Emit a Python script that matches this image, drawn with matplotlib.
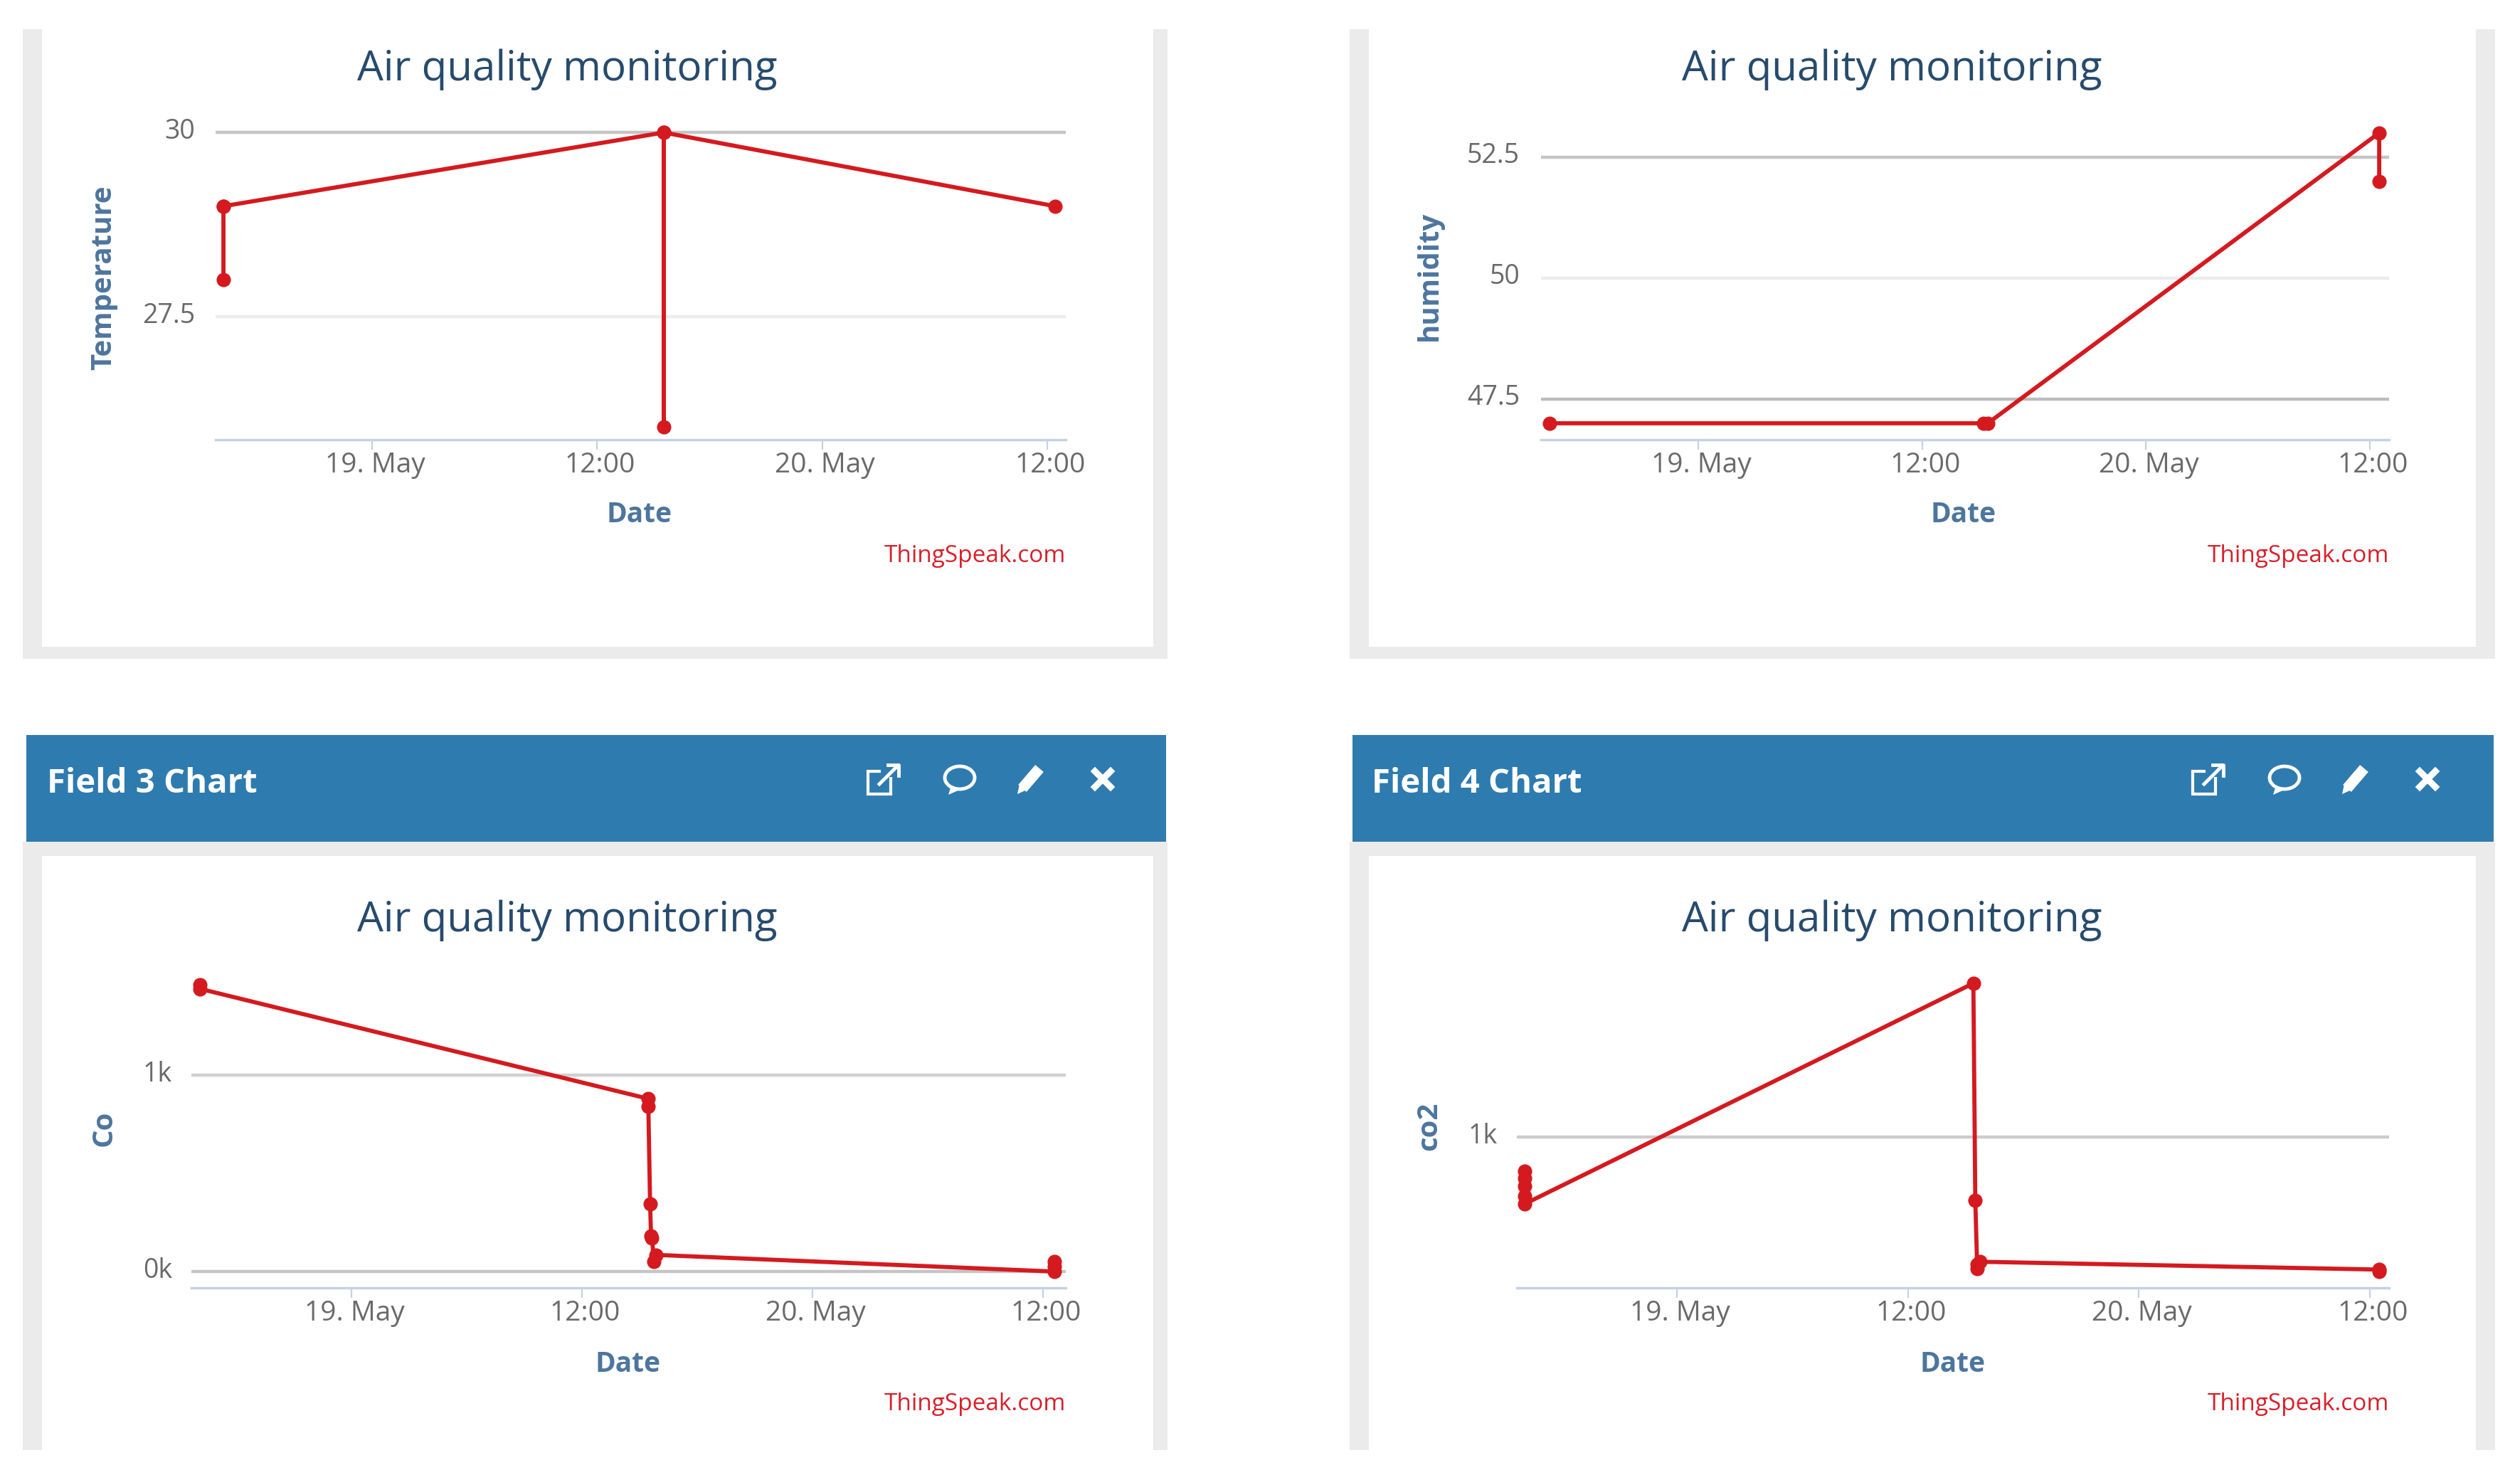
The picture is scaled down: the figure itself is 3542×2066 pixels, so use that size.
import matplotlib
matplotlib.use('Agg')
import matplotlib.pyplot as plt
from matplotlib.patches import Rectangle, Ellipse, Polygon
from matplotlib.transforms import ScaledTranslation

W, H = 3542, 2066
DPI = 100

# hours since 18 May 00:00
tick_hours = [24, 36, 48, 60]
tick_labels = ['19. May', '12:00', '20. May', '12:00']

temp_x = [16.07, 16.07, 16.07, 39.55, 39.55, 39.55, 60.42]
temp_y = [28, 29, 29, 30, 26, 30, 29]
hum_x = [16.03, 39.3, 39.52, 60.5, 60.5]
hum_y = [47, 47, 47, 53, 52]
co_x = [16.11, 16.11, 39.46, 39.46, 39.55, 39.6, 39.65, 39.75, 39.85, 60.6, 60.6, 60.6]
co_y = [1460, 1440, 880, 840, 345, 180, 170, 50, 85, 0, 25, 50]
co2_x = [16.1, 16.1, 16.1, 16.1, 16.1, 39.4, 39.5, 39.6, 39.6, 39.75, 60.5, 60.5]
co2_y = [826, 790, 750, 700, 660, 1783, 678, 330, 350, 365, 325, 315]

panels = [
    dict(px=(303, 1498, 150, 618), xlim=(15.65, 60.99), ylim=(25.83, 30.35), x=temp_x, y=temp_y,
         yticks=[27.5, 30], ylabels=['27.5', '30'], grid=['#ececec', '#c4c4c4'], name='Temperature',
         pad=29, name_xy=(146, 390), date_xy=(899, 723), title_xy=(797, 98), credit_xy=(1498, 781)),
    dict(px=(2166, 3358, 150, 618), xlim=(15.57, 61.03), ylim=(46.66, 53.54), x=hum_x, y=hum_y,
         yticks=[47.5, 50, 52.5], ylabels=['47.5', '50', '52.5'], grid=['#bcbcbc', '#ececec', '#c4c4c4'],
         name='humidity', pad=30, name_xy=(2009, 388), date_xy=(2760, 723), title_xy=(2659, 98),
         credit_xy=(3358, 781)),
    dict(px=(269, 1498, 1340, 1810), xlim=(15.67, 61.19), ylim=(-83, 1620), x=co_x, y=co_y,
         yticks=[0, 1000], ylabels=['0k', '1k'], grid=['#c4c4c4', '#d0d0d0'], name='Co',
         pad=27, name_xy=(146, 1586), date_xy=(883, 1917), title_xy=(797, 1294), credit_xy=(1498, 1973)),
    dict(px=(2132, 3358, 1340, 1810), xlim=(15.68, 61.0), ylim=(232, 1935), x=co2_x, y=co2_y,
         yticks=[1000], ylabels=['1k'], grid=['#cccccc'], name='co2',
         pad=27, name_xy=(2009, 1583), date_xy=(2745, 1917), title_xy=(2659, 1294), credit_xy=(3358, 1973)),
]
headers = [('Field 3 Chart', 37, 1639, 66, 0), ('Field 4 Chart', 1901, 3505, 1928, 1862)]

FONT = 'Open Sans'
RED = '#d41a1f'

fig = plt.figure(figsize=(W / DPI, H / DPI), dpi=DPI, facecolor='white')
bg = fig.add_axes([0, 0, 1, 1])
bg.set_xlim(0, W)
bg.set_ylim(H, 0)
bg.axis('off')


def rect(x0, y0, x1, y1, color):
    bg.add_patch(Rectangle((x0, y0), x1 - x0, y1 - y0, fc=color, ec='none'))


# panel frames
for off, right, inner_r in [(32, 1641, 1621), (1897, 3507, 3480)]:
    inner_l = off + 27
    rect(off, 41, right, 926, '#ebebeb')
    rect(inner_l, 30, inner_r, 909, 'white')
    rect(off, 0, right, 41, 'white')
    rect(off, 1183, right, 2038, '#ebebeb')
    rect(inner_l, 1203, inner_r, 2038, 'white')

# header bars and their icons
for label, x0, x1, tx, dx in headers:
    rect(x0, 1033, x1, 1183, '#2e7bb0')
    bg.text(tx, 1101, label, color='white', fontsize=34, fontweight='bold', family=FONT, ha='left', va='center')
    ix = 1240 + dx
    bg.add_patch(Rectangle((ix - 20, 1084), 32, 32, fc='none', ec='white', lw=3))
    rect(ix - 2, 1072, ix + 26, 1092, '#2e7bb0')
    bg.plot([ix - 4, ix + 22], [1102, 1076], color='white', lw=3.5)
    bg.plot([ix + 8, ix + 23, ix + 23], [1075, 1075, 1090], color='white', lw=3.5)
    ix = 1349 + dx
    bg.add_patch(Ellipse((ix, 1093), 42, 32, fc='none', ec='white', lw=3.5))
    bg.add_patch(Polygon([(ix - 12, 1104), (ix - 16, 1117), (ix + 2, 1109)], fc='white', ec='none'))
    ix = 1450 + dx
    bg.plot([ix - 13, ix + 11], [1108, 1080], color='white', lw=11, solid_capstyle='butt')
    bg.add_patch(Polygon([(ix - 20, 1116), (ix - 17, 1102), (ix - 9, 1111)], fc='white', ec='none'))
    ix = 1550 + dx
    bg.plot([ix - 11, ix + 11], [1084, 1106], color='white', lw=6.5)
    bg.plot([ix - 11, ix + 11], [1106, 1084], color='white', lw=6.5)

for p in panels:
    x0, x1, y0, y1 = p['px']
    ax = fig.add_axes([x0 / W, 1 - y1 / H, (x1 - x0) / W, (y1 - y0) / H])
    ax.patch.set_alpha(0)
    ax.set_xlim(p['xlim'])
    ax.set_ylim(p['ylim'])
    for s in ['top', 'left', 'right']:
        ax.spines[s].set_visible(False)
    ax.spines['bottom'].set_color('#c4d2e4')
    ax.spines['bottom'].set_linewidth(2.5)

    ax.set_xticks(tick_hours, tick_labels, family=FONT, fontsize=28, color='#6a6a6a')
    ax.tick_params(axis='x', length=10, width=1.6, color='#c4d2e4', pad=2)
    ax.set_yticks(p['yticks'], p['ylabels'], family=FONT, fontsize=27, color='#6a6a6a')
    ax.tick_params(axis='y', length=0, pad=p['pad'] * 72 / DPI)
    shift = ScaledTranslation(0, 6 / DPI, fig.dpi_scale_trans)
    for t in ax.get_yticklabels():
        t.set_transform(t.get_transform() + shift)
    for t in ax.get_xticklabels():
        t.set_transform(t.get_transform() + ScaledTranslation(4 / DPI, 0, fig.dpi_scale_trans))
    for v, c in zip(p['yticks'], p['grid']):
        ax.axhline(v, color=c, lw=3.2, zorder=1)

    ax.plot(p['x'], p['y'], color=RED, lw=4.2, marker='o', ms=13.5, mec=RED, zorder=3, clip_on=False)

    bg.text(*p['title_xy'], 'Air quality monitoring', family=FONT, fontsize=42, color='#274b6d', ha='center', va='center')
    bg.text(*p['date_xy'], 'Date', family=FONT, fontsize=28, fontweight='bold', color='#4d759e', ha='center', va='center')
    bg.text(*p['name_xy'], p['name'], family=FONT, fontsize=29, fontweight='bold', color='#4d759e',
            rotation=90, ha='center', va='center')
    bg.text(*p['credit_xy'], 'ThingSpeak.com', family=FONT, fontsize=24, color='#d8202a', ha='right', va='center')

fig.savefig('out.png', dpi=DPI)
